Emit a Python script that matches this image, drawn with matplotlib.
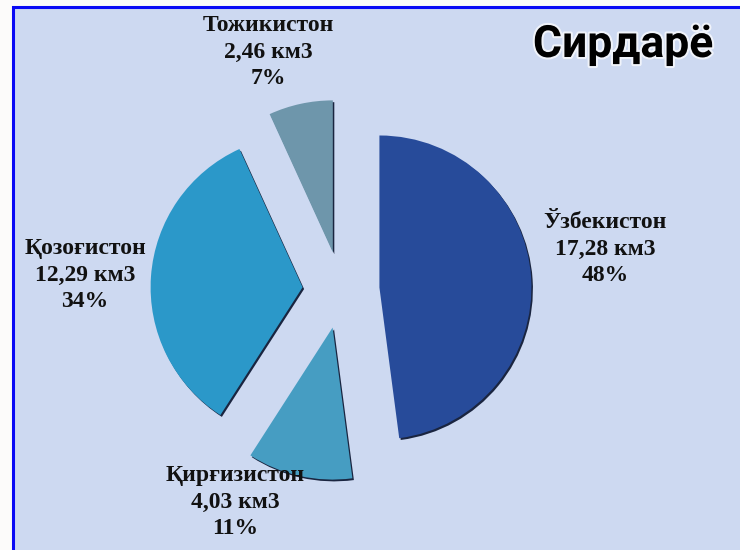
import matplotlib.pyplot as plt
import matplotlib.patheffects as pe
from matplotlib.patches import Rectangle

# Сирдарё — оқим ҳосил бўлиши (км3)
countries = ["Ўзбекистон", "Қирғизистон", "Қозоғистон", "Тожикистон"]
volumes = [17.28, 4.03, 12.29, 2.46]
shares = [48, 11, 34, 7]
colors = ["#274b9a", "#469dc2", "#2b98c9", "#6e96ab"]

W, H = 740, 550
fig = plt.figure(figsize=(W / 100, H / 100), dpi=100, facecolor="#fcfbfa")
ax = fig.add_axes([0, 0, 1, 1])

# panel background with blue frame on left and top
ax.add_patch(Rectangle((12, -10), W, H - 7 + 10, facecolor="#cdd9f1",
                       edgecolor="none", zorder=0))
ax.plot([13, 13, W + 5], [-10, H - 7, H - 7], color="#0a0af5", lw=2.2, zorder=1,
        solid_joinstyle="miter")

cx, cy, r = 341, H - 290, 152
# explode is in data units here (pixels), every slice pulled out the same
expl = [38.5] * len(volumes)

# dark under-layer for the bevel/shadow edge
ax.pie(volumes, explode=expl, colors=["#1a2540"] * 4, startangle=90,
       counterclock=False, center=(cx + 1.5, cy - 1.8), radius=r,
       wedgeprops=dict(linewidth=0), frame=True)
ax.pie(volumes, explode=expl, colors=colors, startangle=90,
       counterclock=False, center=(cx, cy), radius=r,
       wedgeprops=dict(linewidth=0), frame=True)

label_pos = [(605, 249), (235, 502), (85, 275), (268, 52)]
for name, vol, pct, (lx, ly) in zip(countries, volumes, shares, label_pos):
    txt = f"{name}\n{vol:.2f}".replace(".", ",") + f" км3\n{pct}%"
    ax.text(lx, H - ly, txt, ha="center", va="center", fontsize=17,
            fontweight="bold", family="Liberation Serif", linespacing=1.32,
            color="#111111")

ax.text(623, H - 45, "Сирдарё", ha="center", va="center", fontsize=32,
        fontweight="bold", family="Roboto", color="black",
        path_effects=[pe.withStroke(linewidth=3, foreground="white", alpha=0.7)])

ax.set_xlim(0, W)
ax.set_ylim(0, H)
ax.set_aspect("auto")
ax.axis("off")

fig.savefig("out.png", dpi=100, facecolor=fig.get_facecolor())
